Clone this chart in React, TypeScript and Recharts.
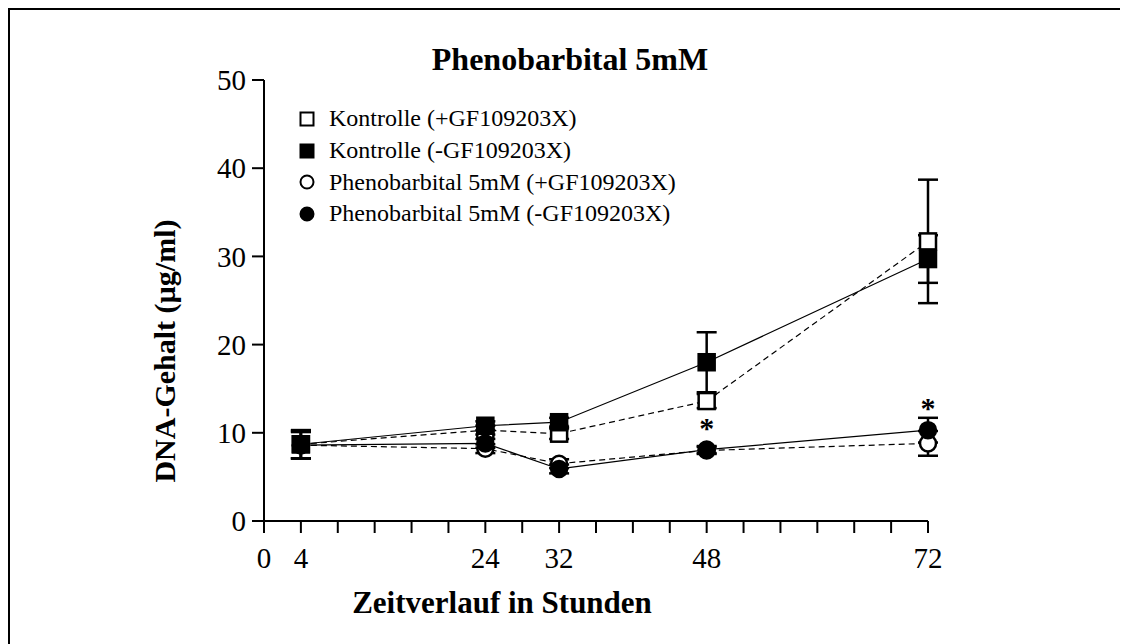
import React from "react";
import { ComposedChart, Line, XAxis, YAxis, ErrorBar, LabelList, Legend } from "recharts";

// Zeitpunkte (Stunden) und Messwerte DNA-Gehalt (µg/ml)
const hours = [4, 24, 32, 48, 72];
const kontrollePlus = [8.7, 10.3, 9.9, 13.6, 31.7];
const kontrollePlusErr = [1.6, 0.5, 0.6, 0.8, 7.0];
const kontrolleMinus = [8.7, 10.8, 11.2, 18.0, 29.7];
const kontrolleMinusErr = [1.6, 0.5, 0.5, 3.4, 2.7];
const phenoPlus = [8.6, 8.2, 6.5, 8.0, 8.8];
const phenoPlusErr = [1.5, 0.5, 0.5, 0.4, 1.4];
const phenoMinus = [8.6, 8.8, 5.9, 8.1, 10.3];
const phenoMinusErr = [1.5, 0.5, 0.5, 0.4, 1.4];
const significant = [false, false, false, true, true];

const xTicks = [0, 4, 8, 12, 16, 20, 24, 28, 32, 36, 40, 44, 48, 52, 56, 60, 64, 68, 72];
const xTickLabels = [0, 4, 24, 32, 48, 72];
const yTicks = [0, 10, 20, 30, 40, 50];

const seriesNames = [
  "Kontrolle (+GF109203X)",
  "Kontrolle (-GF109203X)",
  "Phenobarbital 5mM (+GF109203X)",
  "Phenobarbital 5mM (-GF109203X)",
];

const data = hours.map((h, i) => ({
  hour: h,
  kPlus: kontrollePlus[i],
  kPlusErr: kontrollePlusErr[i],
  kMinus: kontrolleMinus[i],
  kMinusErr: kontrolleMinusErr[i],
  pPlus: phenoPlus[i],
  pPlusErr: phenoPlusErr[i],
  pMinus: phenoMinus[i],
  pMinusErr: phenoMinusErr[i],
  sig: significant[i] ? "*" : "",
}));

const FONT = '"Liberation Serif", "Times New Roman", serif';

const makeSquare = (filled: boolean, size = 18) => (props: any) => {
  const { cx, cy, index } = props;
  if (cx == null || cy == null) return <g key={`s-${index}`} />;
  return (
    <rect
      key={`s-${index}`}
      x={cx - size / 2 + 1}
      y={cy - size / 2 + 1}
      width={size - 2}
      height={size - 2}
      fill={filled ? "#000" : "#fff"}
      stroke="#000"
      strokeWidth={2.5}
    />
  );
};

const makeCircle = (filled: boolean, r = 9) => (props: any) => {
  const { cx, cy, index } = props;
  if (cx == null || cy == null) return <g key={`c-${index}`} />;
  return (
    <circle
      key={`c-${index}`}
      cx={cx}
      cy={cy}
      r={r - 1}
      fill={filled ? "#000" : "#fff"}
      stroke="#000"
      strokeWidth={2.5}
    />
  );
};

const Star = (props: any) => {
  const { x, y, width, value, index } = props;
  if (!value) return null;
  return (
    <text
      key={`st-${index}`}
      x={x + (width || 0) / 2}
      y={y - 12}
      textAnchor="middle"
      fontFamily={FONT}
      fontWeight="bold"
      fontSize={30}
      fill="#000"
    >
      {value}
    </text>
  );
};

const LegendContent = () => (
  <div style={{ fontFamily: FONT, fontSize: 24, color: "#000" }}>
    {seriesNames.map((name, i) => (
      <div key={name} style={{ display: "flex", alignItems: "center", height: 31.7 }}>
        <svg width={16} height={16} style={{ marginRight: 14 }}>
          {i < 2 ? (
            <rect x={1.5} y={1.5} width={13} height={13} fill={i === 1 ? "#000" : "#fff"} stroke="#000" strokeWidth={2} />
          ) : (
            <circle cx={8} cy={8} r={6.5} fill={i === 3 ? "#000" : "#fff"} stroke="#000" strokeWidth={2} />
          )}
        </svg>
        <span style={{ whiteSpace: "nowrap" }}>{name}</span>
      </div>
    ))}
  </div>
);

export default function App() {
  const axisTick = { fill: "#000", fontSize: 29, fontFamily: FONT };
  return (
    <div style={{ position: "relative", width: 1120, height: 636, fontFamily: FONT }}>
      <div
        style={{
          position: "absolute",
          left: 0,
          top: 0,
          width: 1120,
          height: 636,
          borderTop: "2px solid #000",
          borderLeft: "2px solid #000",
          boxSizing: "border-box",
        }}
      />
      <ComposedChart
        width={1120}
        height={636}
        data={data}
        margin={{ top: 72, right: 200, left: 196, bottom: 63 }}
      >
        <XAxis
          type="number"
          dataKey="hour"
          domain={[0, 72]}
          ticks={xTicks}
          interval={0}
          tickFormatter={(v: number) => (xTickLabels.includes(v) ? String(v) : "")}
          tick={axisTick}
          tickSize={12}
          tickMargin={14}
          height={60}
          axisLine={{ stroke: "#000", strokeWidth: 2 }}
          tickLine={{ stroke: "#000", strokeWidth: 2 }}
        />
        <YAxis
          type="number"
          domain={[0, 50]}
          ticks={yTicks}
          interval={0}
          tick={axisTick}
          tickSize={12}
          tickMargin={6}
          width={60}
          axisLine={{ stroke: "#000", strokeWidth: 2 }}
          tickLine={{ stroke: "#000", strokeWidth: 2 }}
        />
        <Legend
          content={<LegendContent />}
          layout="vertical"
          verticalAlign="middle"
          align="center"
          wrapperStyle={{ left: 291, top: 95, width: 420 }}
        />
        <Line
          dataKey="kPlus"
          name={seriesNames[0]}
          stroke="#000"
          strokeWidth={1.2}
          strokeDasharray="6 4"
          dot={makeSquare(false)}
          activeDot={false}
          isAnimationActive={false}
        >
          <ErrorBar dataKey="kPlusErr" width={10} stroke="#000" strokeWidth={2.5} direction="y" />
        </Line>
        <Line
          dataKey="kMinus"
          name={seriesNames[1]}
          stroke="#000"
          strokeWidth={1.2}
          dot={makeSquare(true)}
          activeDot={false}
          isAnimationActive={false}
        >
          <ErrorBar dataKey="kMinusErr" width={10} stroke="#000" strokeWidth={2.5} direction="y" />
        </Line>
        <Line
          dataKey="pPlus"
          name={seriesNames[2]}
          stroke="#000"
          strokeWidth={1.2}
          strokeDasharray="6 4"
          dot={makeCircle(false)}
          activeDot={false}
          isAnimationActive={false}
        >
          <ErrorBar dataKey="pPlusErr" width={10} stroke="#000" strokeWidth={2.5} direction="y" />
        </Line>
        <Line
          dataKey="pMinus"
          name={seriesNames[3]}
          stroke="#000"
          strokeWidth={1.2}
          dot={makeCircle(true)}
          activeDot={false}
          isAnimationActive={false}
        >
          <ErrorBar dataKey="pMinusErr" width={10} stroke="#000" strokeWidth={2.5} direction="y" />
          <LabelList dataKey="sig" content={Star} />
        </Line>
      </ComposedChart>
      <div
        style={{
          position: "absolute",
          left: 362,
          width: 400,
          top: 32,
          textAlign: "center",
          fontWeight: "bold",
          fontSize: 32,
          lineHeight: "38px",
          whiteSpace: "nowrap",
        }}
      >
        Phenobarbital 5mM
      </div>
      <div
        style={{
          position: "absolute",
          left: 244,
          width: 500,
          top: 576,
          textAlign: "center",
          fontWeight: "bold",
          fontSize: 31,
          lineHeight: "38px",
        }}
      >
        Zeitverlauf in Stunden
      </div>
      <div
        style={{
          position: "absolute",
          left: 157 - 200,
          top: 343 - 19,
          width: 400,
          textAlign: "center",
          fontWeight: "bold",
          fontSize: 30,
          lineHeight: "38px",
          transform: "rotate(-90deg)",
          transformOrigin: "200px 19px",
        }}
      >
        DNA-Gehalt (µg/ml)
      </div>
    </div>
  );
}
